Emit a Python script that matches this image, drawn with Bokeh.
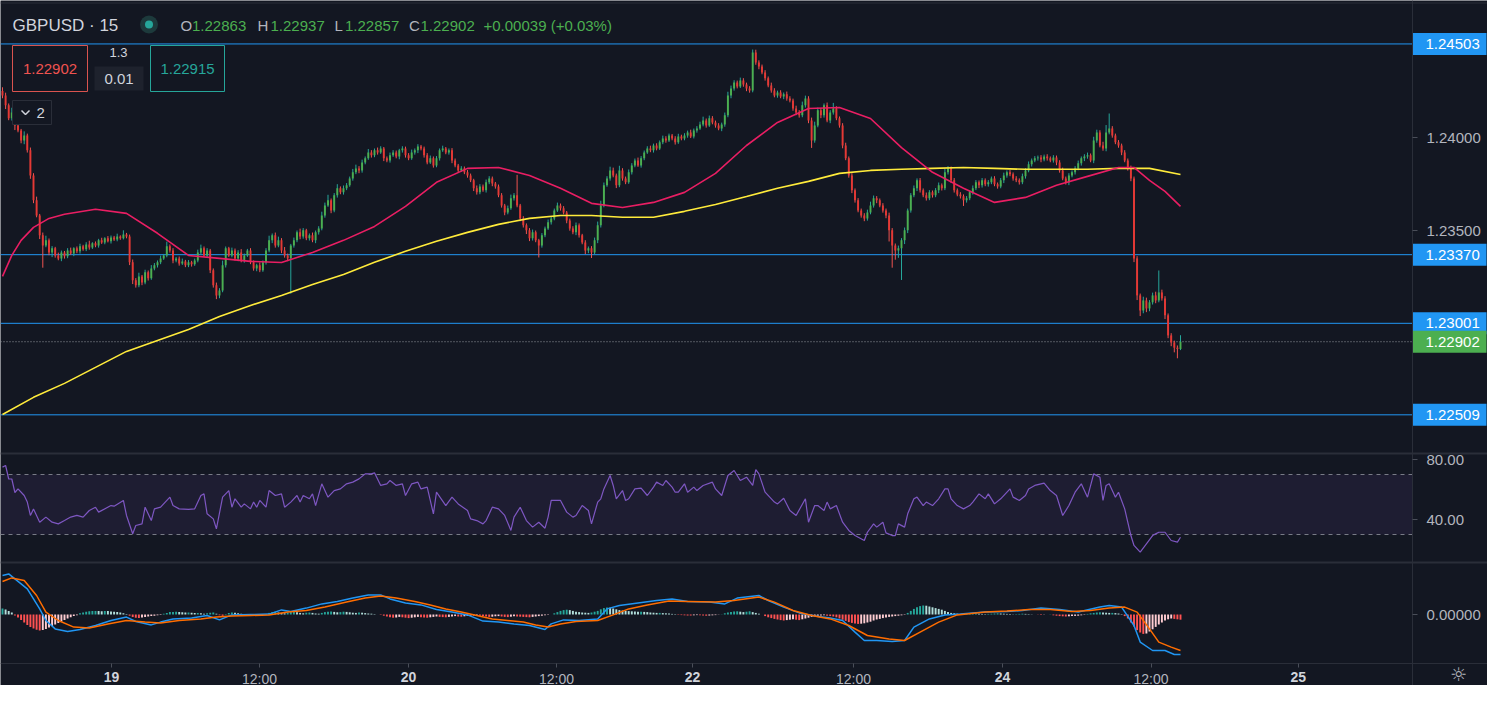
from bokeh.plotting import figure
from bokeh.models import Range1d, FixedTicker, CustomJSTickFormatter, Span, Label, BoxAnnotation
from bokeh.embed import file_html
from bokeh.resources import INLINE
from bokeh.core.properties import value

# ---------------- data ----------------
SYMBOL = "GBPUSD"
INTERVAL = "15"
OHLC_LAST = ["1.22863", "1.22937", "1.22857", "1.22902"]
CHANGE = "+0.00039 (+0.03%)"
BID, ASK, LOT, STEP = "1.22902", "1.22915", "1.3", "0.01"

BASE = 1.2          # prices below are in 1e-5 above 1.20000
PT = 1e-5
open_first = 4250
close_pts = [
    4226, 4173, 4103, 4135, 4065, 4038, 3984, 4011, 3931, 3796,
    3662, 3581, 3474, 3420, 3447, 3382, 3404, 3366, 3350, 3382,
    3361, 3393, 3377, 3404, 3388, 3415, 3399, 3425, 3409, 3431,
    3420, 3447, 3436, 3458, 3442, 3463, 3452, 3468, 3458, 3479,
    3468, 3329, 3232, 3205, 3253, 3221, 3275, 3243, 3296, 3313,
    3329, 3350, 3366, 3415, 3393, 3339, 3350, 3323, 3334, 3313,
    3329, 3318, 3339, 3382, 3404, 3366, 3393, 3286, 3205, 3151,
    3178, 3313, 3404, 3366, 3393, 3350, 3382, 3339, 3366, 3393,
    3329, 3296, 3313, 3286, 3329, 3393, 3447, 3474, 3420, 3447,
    3393, 3366, 3350, 3420, 3447, 3490, 3468, 3501, 3458, 3474,
    3447, 3490, 3511, 3581, 3635, 3662, 3608, 3689, 3727, 3705,
    3727, 3743, 3780, 3813, 3834, 3823, 3866, 3888, 3920, 3904,
    3931, 3920, 3941, 3888, 3877, 3904, 3920, 3898, 3931, 3941,
    3904, 3888, 3920, 3931, 3952, 3941, 3904, 3866, 3888, 3850,
    3888, 3931, 3941, 3920, 3931, 3877, 3850, 3823, 3834, 3813,
    3796, 3770, 3727, 3705, 3737, 3716, 3759, 3780, 3753, 3737,
    3689, 3635, 3597, 3619, 3673, 3689, 3635, 3565, 3528, 3501,
    3458, 3490, 3447, 3420, 3474, 3511, 3544, 3565, 3608, 3635,
    3619, 3597, 3554, 3511, 3490, 3528, 3474, 3436, 3393, 3404,
    3382, 3447, 3528, 3635, 3743, 3780, 3823, 3796, 3743, 3823,
    3780, 3759, 3813, 3850, 3877, 3850, 3888, 3920, 3941, 3931,
    3957, 3941, 3974, 3995, 3984, 4011, 3995, 3974, 4005, 3995,
    4011, 4027, 4005, 4038, 4049, 4070, 4092, 4065, 4103, 4081,
    4065, 4049, 4070, 4119, 4226, 4264, 4296, 4274, 4307, 4285,
    4264, 4253, 4457, 4403, 4382, 4350, 4318, 4280, 4253, 4226,
    4242, 4221, 4232, 4210, 4199, 4156, 4135, 4119, 4173, 4210,
    4092, 3984, 4065, 4146, 4119, 4173, 4092, 4135, 4156, 4103,
    4065, 3957, 3888, 3796, 3716, 3662, 3608, 3581, 3565, 3597,
    3635, 3673, 3662, 3635, 3608, 3581, 3501, 3420, 3393, 3404,
    3447, 3501, 3608, 3689, 3727, 3770, 3716, 3689, 3673, 3705,
    3689, 3716, 3743, 3727, 3813, 3834, 3770, 3716, 3694, 3684,
    3662, 3673, 3705, 3727, 3759, 3743, 3770, 3748, 3759, 3780,
    3748, 3737, 3770, 3796, 3813, 3802, 3780, 3770, 3759, 3791,
    3823, 3856, 3877, 3888, 3893, 3882, 3898, 3888, 3877, 3893,
    3866, 3823, 3780, 3759, 3796, 3813, 3834, 3861, 3888, 3898,
    3904, 3877, 3984, 4027, 3957, 3941, 4027, 4049, 4011, 3974,
    3957, 3920, 3877, 3834, 3780, 3350, 3151, 3070, 3124, 3081,
    3114, 3151, 3124, 3167, 3135, 3044, 2936, 2898, 2870, 2863,
    2902,
]
hi_wick = [
    20, 15, 10, 25, 12, 18, 8, 22, 10, 15,
    12, 20, 8, 15, 25, 10, 12, 8, 15, 10,
    8, 12, 15, 6, 10, 14, 8, 12, 20, 6,
    10, 8, 14, 6, 12, 10, 8, 15, 6, 22,
    8, 10, 15, 12, 20, 8, 14, 10, 18, 12,
    10, 15, 8, 25, 10, 12, 8, 10, 15, 8,
    12, 8, 10, 15, 20, 10, 12, 8, 10, 15,
    12, 25, 10, 8, 15, 10, 12, 18, 10, 8,
    12, 10, 8, 15, 10, 12, 25, 10, 15, 20,
    12, 18, 10, 8, 15, 10, 20, 12, 8, 10,
    15, 10, 12, 20, 15, 30, 10, 12, 22, 10,
    15, 12, 10, 18, 20, 12, 15, 10, 18, 12,
    10, 15, 12, 8, 10, 15, 12, 10, 8, 12,
    10, 12, 15, 10, 12, 8, 10, 12, 15, 10,
    12, 10, 15, 8, 10, 12, 10, 8, 12, 10,
    12, 10, 8, 15, 12, 10, 15, 12, 10, 8,
    10, 12, 8, 15, 20, 12, 110, 8, 12, 10,
    12, 15, 10, 8, 12, 10, 15, 12, 10, 15,
    10, 12, 8, 10, 12, 15, 10, 8, 12, 10,
    12, 15, 20, 25, 15, 12, 20, 15, 10, 25,
    12, 10, 15, 12, 10, 15, 12, 10, 12, 15,
    10, 12, 10, 15, 12, 10, 8, 12, 15, 10,
    12, 10, 15, 10, 12, 15, 20, 10, 15, 12,
    10, 12, 10, 15, 20, 15, 12, 10, 15, 12,
    10, 12, 16, 15, 12, 10, 12, 10, 15, 12,
    10, 12, 10, 15, 12, 10, 15, 12, 20, 15,
    12, 15, 20, 15, 12, 10, 15, 12, 30, 12,
    10, 12, 15, 10, 12, 10, 12, 10, 12, 15,
    20, 15, 12, 10, 12, 10, 15, 12, 10, 15,
    12, 15, 10, 12, 15, 10, 12, 10, 15, 12,
    10, 12, 15, 10, 20, 12, 10, 12, 10, 12,
    10, 12, 10, 15, 12, 10, 12, 10, 12, 10,
    12, 10, 12, 15, 10, 12, 10, 12, 10, 15,
    12, 15, 10, 12, 10, 12, 10, 12, 10, 12,
    10, 12, 15, 10, 12, 10, 12, 15, 10, 12,
    15, 10, 20, 15, 12, 20, 40, 80, 12, 10,
    12, 10, 12, 10, 15, 10, 12, 10, 20, 15,
    12, 15, 20, 118, 15, 12, 10, 12, 10, 12,
    35,
]
lo_wick = [
    15, 20, 10, 12, 25, 10, 15, 20, 12, 18,
    15, 10, 20, 120, 10, 15, 25, 12, 10, 15,
    12, 10, 8, 15, 10, 12, 8, 10, 12, 8,
    10, 12, 8, 10, 6, 12, 8, 10, 8, 6,
    10, 15, 20, 12, 10, 15, 10, 12, 8, 10,
    12, 10, 8, 10, 12, 15, 10, 12, 8, 10,
    10, 12, 8, 10, 12, 8, 10, 15, 12, 20,
    15, 10, 12, 8, 10, 12, 15, 10, 12, 8,
    10, 12, 15, 10, 8, 12, 10, 15, 12, 10,
    15, 12, 15, 190, 12, 10, 15, 12, 10, 12,
    10, 15, 12, 10, 12, 8, 15, 10, 12, 10,
    12, 10, 8, 12, 10, 15, 12, 10, 8, 12,
    10, 12, 8, 15, 10, 12, 8, 10, 15, 12,
    12, 10, 8, 12, 15, 10, 12, 10, 8, 12,
    10, 12, 8, 10, 12, 15, 10, 12, 8, 10,
    12, 10, 15, 12, 10, 8, 12, 10, 15, 12,
    10, 12, 15, 10, 8, 12, 10, 15, 12, 20,
    15, 12, 10, 65, 12, 10, 8, 12, 10, 8,
    12, 10, 15, 12, 10, 15, 12, 10, 20, 15,
    30, 10, 15, 12, 10, 8, 12, 10, 15, 10,
    12, 10, 8, 12, 10, 8, 12, 10, 8, 10,
    12, 10, 8, 10, 12, 8, 10, 12, 8, 10,
    10, 12, 8, 10, 12, 8, 10, 12, 8, 10,
    12, 10, 15, 12, 10, 15, 12, 10, 8, 12,
    15, 12, 10, 12, 15, 10, 12, 10, 12, 10,
    12, 10, 15, 12, 10, 12, 15, 12, 10, 12,
    15, 40, 12, 10, 15, 12, 10, 15, 12, 10,
    12, 15, 10, 12, 15, 12, 10, 12, 15, 12,
    10, 12, 15, 10, 12, 15, 60, 120, 50, 40,
    170, 20, 15, 12, 10, 15, 12, 10, 12, 10,
    12, 10, 15, 12, 10, 12, 15, 12, 10, 12,
    30, 12, 10, 12, 10, 15, 12, 10, 12, 10,
    10, 12, 10, 15, 12, 10, 12, 10, 12, 10,
    12, 10, 12, 10, 12, 15, 10, 12, 10, 12,
    15, 12, 10, 12, 15, 10, 12, 10, 12, 15,
    12, 10, 15, 12, 10, 12, 15, 10, 12, 10,
    12, 15, 10, 12, 15, 20, 25, 30, 15, 20,
    15, 12, 15, 10, 12, 20, 15, 20, 25, 50,
    6,
]

# moving averages (pink = fast, yellow = slow), read at bar positions
ma_fast_x = [0, 3, 6, 10, 15, 20, 30, 40, 50, 60, 70, 80, 90, 100, 110, 120, 130, 140, 150, 160,
             170, 180, 190, 200, 210, 220, 230, 240, 250, 260, 270, 280, 290, 300, 310, 320, 330,
             340, 350, 360, 365, 370, 375, 380]
ma_fast = [3253, 3366, 3447, 3517, 3565, 3587, 3614, 3592, 3485, 3366, 3350, 3334, 3328, 3382, 3447,
           3522, 3630, 3759, 3834, 3839, 3796, 3727, 3646, 3624, 3651, 3705, 3807, 3957, 4081, 4156,
           4161, 4102, 3946, 3813, 3727, 3651, 3678, 3743, 3791, 3839, 3839, 3770, 3710, 3630]
ma_slow_x = list(range(0, 381, 10))
ma_slow = [2511, 2603, 2678, 2764, 2850, 2909, 2968, 3038, 3097, 3151, 3210, 3264, 3329, 3388, 3442,
           3490, 3533, 3565, 3581, 3581, 3571, 3571, 3603, 3640, 3683, 3727, 3764, 3807, 3823, 3829,
           3834, 3839, 3834, 3829, 3829, 3829, 3834, 3834, 3801]

levels = [1.24503, 1.23370, 1.23001, 1.22509]
last_price = 1.22902

rsi_x = [0, 1, 2, 3, 4, 5, 7, 8, 9, 10, 12, 14, 16, 18, 20, 22, 24, 26, 28, 30, 31, 35, 36, 39, 40,
         42, 43, 45, 46, 48, 49, 51, 54, 55, 57, 60, 62, 64, 65, 66, 68, 69, 71, 73, 74, 75, 77, 78,
         80, 81, 82, 83, 85, 86, 88, 90, 91, 93, 95, 96, 97, 99, 100, 101, 103, 105, 107, 109, 111,
         113, 115, 117, 119, 120, 122, 124, 125, 127, 129, 130, 132, 134, 135, 137, 139, 140, 143,
         145, 147, 150, 151, 153, 155, 156, 158, 160, 162, 164, 165, 167, 169, 171, 173, 175, 176,
         177, 180, 182, 184, 185, 187, 189, 190, 192,
         193, 194, 196, 197, 198, 200, 201, 202, 204, 206, 208, 210, 211, 213, 214, 216, 217, 218,
         220, 221, 223, 224, 226, 229, 230, 232, 234, 236, 238, 240, 242, 243, 244, 246, 249, 250,
         252, 254, 256, 259, 260, 262, 263, 265, 266, 267, 269, 271, 273, 275, 278, 279, 281, 282,
         284, 285, 287, 288, 289, 291, 292, 294, 295, 297, 298, 300, 302, 304, 305, 306, 308, 310,
         312, 313, 315, 317, 318, 320, 322, 325, 326, 328, 330, 331, 333, 335, 336, 338, 340, 342,
         344, 346, 348, 350, 352, 354, 355, 356, 357, 359, 360, 362, 364, 365, 367, 369, 371, 372,
         373, 375, 377, 379, 380]
rsi_v = [74.9, 76, 67, 67, 58, 60.4, 56, 51.6, 42.7, 47, 38.2, 41.6, 38.2, 37.1, 39.3, 41.6, 42.7,
         41.6, 46, 48.2, 44.9, 49.3, 48.9, 52.7, 42.7, 30.5, 36, 37.1, 48.2, 39.3, 47.1, 48.2, 54.9,
         49.3, 47.1, 46.7, 47.1, 56, 57.1, 43.8, 40.4, 33.8, 54.9, 59.3, 48.2, 53.8, 48.2, 50.4, 47.1,
         51.6, 48.2, 52.7, 48.2, 59.3, 56, 57.1, 48.2, 51.6, 56, 51.6, 56, 53.8, 57.1, 49.3, 63.8,
         54.9, 59.3, 60.4, 63.8, 64.9, 67.1, 70.4, 70.4, 71.1, 62.7, 63.8, 66, 62.7, 63.8, 56, 63.8,
         64.9, 60.4, 61.6, 43.8, 58.2, 49.3, 54.9, 50.4, 46, 40.4, 39.3, 37.1, 39.3, 48.2, 47.1, 42.7,
         32.7, 41.6, 48.2, 39.3, 34.9, 38.2, 34.2, 41.6, 52.7, 52.7, 44.9, 41.6, 42.7, 49.3, 46, 37.1,
         51.6,
         53.8, 60.4, 69.3, 62.7, 53.8, 59.3, 52.7, 53.8, 60.4, 60.9, 56, 61.6, 64.9, 62.7, 66, 61.6,
         58.2, 58.2, 63.8, 58.2, 61.6, 59.3, 62.7, 64.9, 60.4, 56, 69.3, 72.7, 66, 68.2, 62.7, 73.3,
         70.4, 58.2, 51.6, 50.4, 54.2, 46, 42.7, 53.8, 38.2, 49.3, 49.3, 46, 51.6, 47.1, 49.3, 38.2,
         32.7, 29.3, 26, 31.5, 37.1, 34.9, 38.2, 31.1, 29.3, 29.3, 37.1, 34.9, 43.8, 53.8, 54.9, 49.3,
         51.6, 49.3, 53.8, 60.4, 60.4, 53.8, 49.3, 47.1, 49.3, 51.6, 57.1, 53.8, 57.1, 50.4, 53.8,
         60.4, 54.9, 52.7, 56, 60.4, 62.7, 63.8, 64.2, 59.3, 56, 42.7, 49.3, 58.2, 63.8, 54.9, 70.4,
         68.2, 52.7, 62.7, 63.8, 54.9, 58.2, 47.1, 29.3, 22.7, 18.2, 23.8, 29.3, 30.4, 31.5, 31.5, 26,
         24.9, 28.2]

# MACD (points of 1e-5)
macd_x = [0, 2, 4, 8, 12, 14, 17, 21, 25, 30, 35, 40, 43, 48, 51, 55, 61, 66, 70, 74, 80, 86, 90, 93,
          98, 103, 108, 113, 118, 122, 125, 130, 135, 140, 145, 150, 155, 160, 165, 170, 175, 177,
          181, 186, 192,
          195, 199, 205, 211, 216, 221, 228, 233, 237, 244, 247, 252, 257, 262, 267, 271, 275, 278,
          282, 287, 291, 294, 299, 304, 309, 317, 324, 329, 335, 341, 347, 354, 357, 361, 365, 367,
          371, 375, 378, 380]
macd_v = [195, 203, 178, 128, 28, -30, -72, -85, -75, -55, -30, -13, -35, -52, -38, -22, -17, -5, -27,
          -2, 0, 2, 23, 15, 32, 53, 65, 82, 98, 98, 78, 58, 48, 25, 12, -2, -33, -38, -47, -55, -75,
          -47, -27, -30, -22,
          28, 45, 58, 70, 78, 65, 62, 53, 82, 95, 70, 37, 8, -8, -18, -30, -88, -130, -130, -135,
          -130, -63, -22, -2, 3, 12, 15, 20, 32, 25, 12, 37, 45, 37, -55, -138, -180, -180, -200, -200]
sig_x = [0, 3, 7, 11, 14, 18, 23, 28, 34, 40, 46, 51, 57, 64, 69, 74, 80, 86, 92, 98, 104, 111, 117,
         122, 127, 133, 138, 143, 148, 153, 158, 163, 168, 172, 176, 180, 185, 192,
         197, 202, 208, 215, 221, 230, 236, 244, 249, 255, 261, 267, 273, 279, 286, 291, 296, 302,
         308, 317, 324, 331, 338, 345, 351, 357, 362, 366, 370, 373, 377, 380]
sig_v = [165, 183, 170, 95, 12, -30, -63, -68, -47, -30, -38, -42, -30, -22, -13, -8, -5, -2, 12, 20,
         37, 62, 82, 92, 82, 65, 48, 28, 12, -5, -22, -30, -38, -52, -63, -47, -35, -30,
         -2, 28, 48, 67, 65, 62, 70, 87, 62, 20, -5, -22, -55, -105, -122, -130, -88, -38, -2, 12,
         17, 25, 25, 15, 20, 32, 37, 12, -72, -138, -163, -180]
hist = [
    30, 25, 18, 10, -5, -15, -28, -40, -52, -62, -70, -76, -80, -78, -72, -65, -58, -50,
    -42, -35, -28, -20, -14, -8, -4,
    6, 10, 14, 16, 18, 18, 17, 16, 18, 17, 15, 14, 12, 10, 6, 2,
    -6, -12, -16, -18, -15, -12, -10, -8, -6, -4, -2,
    4, 8, 12, 13, 14, 12, 11, 10, 10, 9, 8, 8, 6, 4,
    6, 9, 10, 4, -4, -6, 2, 8, 10, 9, 6, 4,
    2, 1, 0, -1, 0, 1, 2, 3,
    8, 12, 14, 10, 8, 6, 10, 12, 13, 11, 8, 6, 9, 10, 8, 5, 4,
    8, 12, 14, 15, 13, 11, 12, 14, 13, 11, 9, 8, 10, 9, 7, 5, 4, 2, 0, -2,
    -6, -10, -14, -16, -15, -12, -14, -16, -18, -16, -14, -12, -14, -15, -16, -14, -12, -10, -12,
    -13, -14, -12, -10, -8, -10, -11, -9, -7, -6, -5, -4,
    -6, -8, -10, -12, -11, -9, -8, -10, -12, -13, -11, -9, -10, -11, -12, -13, -14, -12, -10, -8,
    -6, -4, -2, 0,
    6, 12, 18, 22, 24, 22, 18, 14, 12, 10, 9, 8, 10, 14, 18,
    26, 32, 35, 34, 30, 26, 22, 20,
    18, 17, 16, 15, 14, 14, 13, 12, 10, 9, 8, 8, 7, 6, 5, 3, 2,
    -2, -3, -4, -5, -5, -4, -3, -4, -5, -6, -5, -4, -3, -1, 1,
    6, 10, 13, 15, 16, 14, 12, 14, 16, 12, 8, 4, 0,
    -8, -14, -18, -22, -25, -28, -30, -28, -26, -24, -26, -28, -24, -20, -16, -12,
    -8, -6, -5, -4, -6, -8, -10, -14,
    -20, -26, -32, -38, -42, -45, -47, -46, -44, -40, -36, -30,
    -25, -22, -18, -15, -12, -10, -8, -6, -4, -2,
    8, 18, 28, 36, 42, 45, 44, 40, 36, 32, 28, 24, 18,
    12, 8, 6, 4, 3, 2, 2, 3, 4, 5, 4, 3, 2, 3, 4, 5, 6, 5, 4, 3, 2, 1, 2, 3, 4, 3, 2, 1, 0, -1,
    -2, -1, 0, 1,
    -4, -6, -8, -9, -10, -9, -8, -7, -6, -4, -2,
    3, 6, 8, 10, 11, 10, 9, 8, 8, 7, 5, 2,
    -8, -20, -40, -60, -78, -90, -97, -95,
    -85, -74, -62, -50, -40, -30, -24, -20, -22, -24, -26,
]

x_ticks = [35.2, 82.9, 131.0, 178.7, 222.6, 274.5, 322.6, 370.5, 418.0]
x_labels = ["19", "12:00", "20", "12:00", "22", "12:00", "24", "12:00", "25"]

# ---------------- layout (reference pixel geometry, 1:1) ----------------
W, H = 1487, 685
AX_X, AX_Y = 1412, 663        # where the price axis and the time axis sit
BAR0, DX = 2.0, 3.1

def bx(px):
    return (px - BAR0) / DX

def price_at(yr):          # price axis: 1.24000 at y=137, 1.23500 at y=230
    return 1.24 + (137 - yr) * (0.005 / 93.0)

def y_of_price(v):
    return 137 - (v - 1.24) * (93.0 / 0.005)

def rsi_at(yr):            # 80 at y=459, 40 at y=519
    return 80 - (yr - 459) * (40 / 60.0)

def macd_at(yr):           # 0 at y=614, 5e-5 per px
    return (614 - yr) * 5e-5

def y_of_rsi(v):
    return 459 + (80 - v) * 1.5

def y_of_macd(v):
    return 614 - v / 5e-5

BG = "#131722"
FONT = "Liberation Sans"
GREEN, RED = "#4caf50", "#e53935"
X0, X1 = bx(0), bx(AX_X)

p = figure(width=W, height=H, output_backend="svg", toolbar_location=None,
           x_range=Range1d(bx(0), bx(W)),
           y_range=Range1d(price_at(H), price_at(0)),
           y_axis_location="right", min_border=0,
           background_fill_color=BG, border_fill_color=BG, outline_line_color=None)
p.extra_y_ranges = {
    "rsi": Range1d(rsi_at(H), rsi_at(0)),
    "macd": Range1d(macd_at(H), macd_at(0)),
}
p.grid.visible = False

# axes, drawn inside the frame at fixed locations
def nearest_fmt(vals, labs):
    return CustomJSTickFormatter(args=dict(vals=vals, labs=labs), code="""
        let best = ''; let d = Infinity;
        for (let i = 0; i < vals.length; i++) {
            const e = Math.abs(vals[i] - tick);
            if (e < d) { d = e; best = labs[i]; }
        }
        return best;
    """)

yt_vals = [price_at(y_of_macd(0.0)), price_at(y_of_rsi(40)), price_at(y_of_rsi(80)), 1.235, 1.24]
yt_labs = ["0.00000", "40.00", "80.00", "1.23500", "1.24000"]
ya = p.yaxis[0]
ya.fixed_location = bx(AX_X)
ya.ticker = FixedTicker(ticks=yt_vals)
ya.formatter = nearest_fmt(yt_vals, yt_labs)
xa = p.xaxis[0]
xa.fixed_location = price_at(AX_Y)
xa.ticker = FixedTicker(ticks=x_ticks)
xa.formatter = nearest_fmt(x_ticks, [l if l == "12:00" else "" for l in x_labels])
for ax in (xa, ya):
    ax.axis_line_color = "#2a2e39"
    ax.major_tick_line_color = "#4a4e59"
    ax.major_tick_in = 0
    ax.major_tick_out = 5
    ax.minor_tick_line_color = None
    ax.major_label_text_color = "#b2b5be"
    ax.major_label_text_font = FONT
    ax.major_label_text_font_size = "15px"
ya.major_label_standoff = 9
xa.major_tick_out = 4
xa.major_label_standoff = 3
xa.major_label_text_font_size = "14px"

# pane separators
for yr in (453, 562):
    p.add_layout(Span(location=price_at(yr), dimension="width", line_color="#2a2e39", line_width=2))
p.add_layout(Span(location=price_at(2.5), dimension="width", line_color="#2a2e39", line_width=1))

# horizontal levels (stop at the price axis)
p.segment(x0=X0, x1=X1, y0=levels, y1=levels, line_color="#2196f3", line_width=1)
p.segment(x0=X0, x1=X1, y0=last_price, y1=last_price, line_color="#9598a1", line_width=1,
          line_dash="1 2")

# candles
n = min(len(close_pts), len(hi_wick), len(lo_wick))
xs = list(range(n))
opens = [open_first] + close_pts[:n - 1]
cl = close_pts[:n]
top = [BASE + max(o, c) * PT for o, c in zip(opens, cl)]
bot = [BASE + min(o, c) * PT for o, c in zip(opens, cl)]
hi = [t + w * PT for t, w in zip(top, hi_wick)]
lo = [b - w * PT for b, w in zip(bot, lo_wick)]
up = [c >= o for o, c in zip(opens, cl)]
p.segment(xs, hi, xs, lo, line_color=["#26a69a" if u else "#ef5350" for u in up], line_width=1)
p.vbar(x=xs, top=top, bottom=bot, width=0.62, fill_color=[GREEN if u else RED for u in up],
       line_color=None)

# moving averages
p.line(ma_slow_x, [BASE + v * PT for v in ma_slow], line_color="#ffeb3b", line_width=1.6)
p.line(ma_fast_x, [BASE + v * PT for v in ma_fast], line_color="#e91e63", line_width=1.6)

# RSI pane
p.add_layout(BoxAnnotation(left=X0, right=X1, bottom=30, top=70, y_range_name="rsi",
                           fill_color="#7e57c2", fill_alpha=0.1, line_color=None, level="underlay"))
p.segment(x0=X0, x1=X1, y0=[70, 30], y1=[70, 30], y_range_name="rsi", line_color="#787b86",
          line_width=1, line_dash="4 4")
p.line(rsi_x, rsi_v, y_range_name="rsi", line_color="#7e57c2", line_width=1.2)

# MACD pane
hcol = []
prev = 0
for h in hist:
    if h >= 0:
        hcol.append("#26a69a" if h >= prev else "#b2dfdb")
    else:
        hcol.append("#ff5252" if h <= prev else "#ffcdd2")
    prev = h
p.vbar(x=list(range(len(hist))), top=[h * PT for h in hist], bottom=0, width=0.62,
       y_range_name="macd", fill_color=hcol, line_color=None)
p.line(macd_x, [v * PT for v in macd_v], y_range_name="macd", line_color="#2196f3", line_width=1.5)
p.line(sig_x, [v * PT for v in sig_v], y_range_name="macd", line_color="#ff6d00", line_width=1.5)

# bold day labels under the time axis, settings icon
for xv, lab in zip(x_ticks, x_labels):
    if lab != "12:00":
        p.add_layout(Label(x=xv, y=price_at(676), text=lab, text_color="#d1d4dc", text_font=FONT,
                           text_font_size="14px", text_font_style="bold", text_align="center",
                           text_baseline="middle"))
p.add_layout(Label(x=bx(1458), y=price_at(673), text="\u263c", text_color="#b2b5be",
                   text_font="DejaVu Sans", text_font_size="19px", text_align="center",
                   text_baseline="middle"))

# price tags on the axis
tag_prices = levels + [last_price]
tag_cols = ["#2196f3"] * len(levels) + [GREEN]
p.quad(left=bx(AX_X), right=bx(1486), top=[price_at(y_of_price(v) - 11) for v in tag_prices],
       bottom=[price_at(y_of_price(v) + 11) for v in tag_prices], fill_color=tag_cols,
       line_color=None)
p.text(x=bx(1425), y=tag_prices, text=[f"{v:.5f}" for v in tag_prices], text_color="white",
       text_font=value(FONT), text_font_size="15px", text_align="left", text_baseline="middle")

# ---- top-left legend / trading widgets ----
def txt(px, yr, s, color, size="15px", align="left", style="normal"):
    p.text(x=[bx(px)], y=[price_at(yr)], text=[s], text_color=color, text_font=value(FONT),
           text_font_size=size, text_align=align, text_baseline="middle", text_font_style=style)

txt(12, 25, f"{SYMBOL} \u00b7 {INTERVAL}", "#d1d4dc", size="17px")
p.scatter([bx(148.5)], [price_at(24)], size=18, fill_color="#1d3a3c", line_color=None)
p.scatter([bx(148.5)], [price_at(24)], size=8, fill_color="#26a69a", line_color=None)
grey = "#b2b5be"
pieces = [("O", 180, grey), (OHLC_LAST[0], 191.5, GREEN), ("H", 257, grey), (OHLC_LAST[1], 270, GREEN),
          ("L", 334, grey), (OHLC_LAST[2], 344.5, GREEN), ("C", 408.5, grey), (OHLC_LAST[3], 420, GREEN),
          (CHANGE, 483, GREEN)]
for s, px, col in pieces:
    txt(px, 25, s, col)

def box(x0, x1, y0, y1, fill, line):
    p.quad(left=[bx(x0)], right=[bx(x1)], top=[price_at(y0)], bottom=[price_at(y1)],
           fill_color=fill, line_color=line, line_width=1)

box(12, 87, 45, 91, BG, "#d9534f")
txt(49.5, 68, BID, "#ef5350", align="center")
txt(118, 52, LOT, "#d1d4dc", size="13px", align="center")
box(94, 143, 66, 90, "#1e222d", None)
txt(118.5, 78, STEP, "#d1d4dc", align="center")
box(150, 224, 45, 91, BG, "#26a69a")
txt(187, 68, ASK, "#26a69a", align="center")
box(12, 51, 100, 124, BG, "#2a2e39")
p.line([bx(21), bx(25), bx(29)], [price_at(110), price_at(114), price_at(110)], line_color="#d1d4dc",
       line_width=1.5)
txt(36, 112, "2", "#d1d4dc")

open("out.html", "w").write(file_html(p, INLINE))
